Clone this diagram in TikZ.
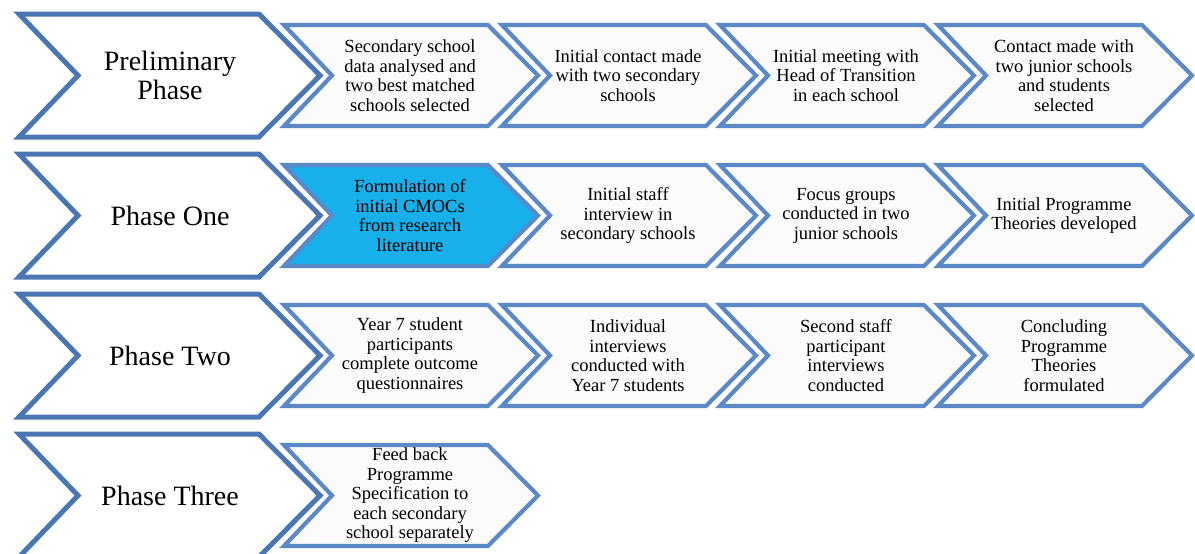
\documentclass[tikz,border=0pt]{standalone}
\usepackage{fontspec}
\setmainfont{Liberation Serif}
\newfontfamily\timesfont{Liberation Serif}
\usepackage{tikz}
\definecolor{uaxxbu}{rgb}{0.2902,0.4667,0.7059}
\definecolor{vbyycw}{rgb}{0.3569,0.5333,0.7765}
\definecolor{rxbqea}{rgb}{0.0902,0.6902,0.9176}
\definecolor{fbfbfb}{rgb}{0.9843,0.9843,0.9843}
\tikzset{
  phasebox/.style={draw=uaxxbu,line width=5pt,line join=miter,fill=white},
  stepbox/.style={draw=vbyycw,line width=4.2pt,line join=miter,fill=fbfbfb},
  phasetext/.style={align=center,font=\timesfont\fontsize{28}{29}\selectfont},
  steptext/.style={align=center,font=\timesfont\fontsize{18.5}{19.5}\selectfont}
}
\begin{document}
\begin{tikzpicture}[line cap=round,line join=round,x=1pt,y=-1pt]
\clip(0,0) rectangle (1195,554);
\useasboundingbox (0,0) rectangle (1195,554);
% big phase chevrons
\draw [phasebox] (19,14)-- (259,14)-- (320,75.5)-- (259,137)-- (19,137)-- (78,75.5)-- cycle;
\draw [phasebox,shift={(0,140)}] (19,14)-- (259,14)-- (320,75.5)-- (259,137)-- (19,137)-- (78,75.5)-- cycle;
\draw [phasebox,shift={(0,280)}] (19,14)-- (259,14)-- (320,75.5)-- (259,137)-- (19,137)-- (78,75.5)-- cycle;
\draw [phasebox,shift={(0,420)}] (19,14)-- (259,14)-- (320,75.5)-- (259,137)-- (19,137)-- (78,75.5)-- cycle;
% preliminary phase steps
\draw [stepbox,shift={(0,0)}] (284,25)-- (488,25)-- (538,75.5)-- (488,126)-- (284,126)-- (332,75.5)-- cycle;
\draw [stepbox,shift={(218,0)}] (284,25)-- (488,25)-- (538,75.5)-- (488,126)-- (284,126)-- (332,75.5)-- cycle;
\draw [stepbox,shift={(436,0)}] (284,25)-- (488,25)-- (538,75.5)-- (488,126)-- (284,126)-- (332,75.5)-- cycle;
\draw [stepbox,shift={(654,0)}] (284,25)-- (488,25)-- (538,75.5)-- (488,126)-- (284,126)-- (332,75.5)-- cycle;
% phase one steps
\draw [stepbox,fill=rxbqea,shift={(0,140)}] (284,25)-- (488,25)-- (538,75.5)-- (488,126)-- (284,126)-- (332,75.5)-- cycle;
\draw [stepbox,shift={(218,140)}] (284,25)-- (488,25)-- (538,75.5)-- (488,126)-- (284,126)-- (332,75.5)-- cycle;
\draw [stepbox,shift={(436,140)}] (284,25)-- (488,25)-- (538,75.5)-- (488,126)-- (284,126)-- (332,75.5)-- cycle;
\draw [stepbox,shift={(654,140)}] (284,25)-- (488,25)-- (538,75.5)-- (488,126)-- (284,126)-- (332,75.5)-- cycle;
% phase two steps
\draw [stepbox,shift={(0,280)}] (284,25)-- (488,25)-- (538,75.5)-- (488,126)-- (284,126)-- (332,75.5)-- cycle;
\draw [stepbox,shift={(218,280)}] (284,25)-- (488,25)-- (538,75.5)-- (488,126)-- (284,126)-- (332,75.5)-- cycle;
\draw [stepbox,shift={(436,280)}] (284,25)-- (488,25)-- (538,75.5)-- (488,126)-- (284,126)-- (332,75.5)-- cycle;
\draw [stepbox,shift={(654,280)}] (284,25)-- (488,25)-- (538,75.5)-- (488,126)-- (284,126)-- (332,75.5)-- cycle;
% phase three step
\draw [stepbox,shift={(0,420)}] (284,25)-- (488,25)-- (538,75.5)-- (488,126)-- (284,126)-- (332,75.5)-- cycle;
% texts
\node [phasetext] (prelim) at (170,75.5) {Preliminary\\Phase};
\node [phasetext] (one) at (170,215.5) {Phase One};
\node [phasetext] (two) at (170,355.5) {Phase Two};
\node [phasetext] (three) at (170,495.5) {Phase Three};
\node [steptext] (prelimA) at (410,75.5) {Secondary school\\data analysed and\\two best matched\\schools selected};
\node [steptext] (prelimB) at (628,75.5) {Initial contact made\\with two secondary\\schools};
\node [steptext] (prelimC) at (846,75.5) {Initial meeting with\\Head of Transition\\in each school};
\node [steptext] (prelimD) at (1064,75.5) {Contact made with\\two junior schools\\and students\\selected};
\node [steptext] (oneA) at (410,215.5) {Formulation of\\initial CMOCs\\from research\\literature};
\node [steptext] (oneB) at (628,215.5) {Initial staff\\interview in\\secondary schools};
\node [steptext] (oneC) at (846,215.5) {Focus groups\\conducted in two\\junior schools};
\node [steptext] (oneD) at (1064,215.5) {Initial Programme\\Theories developed};
\node [steptext] (twoA) at (410,355.5) {Year 7 student\\participants\\complete outcome\\questionnaires};
\node [steptext] (twoB) at (628,355.5) {Individual\\interviews\\conducted with\\Year 7 students};
\node [steptext] (twoC) at (846,355.5) {Second staff\\participant\\interviews\\conducted};
\node [steptext] (twoD) at (1064,355.5) {Concluding\\Programme\\Theories\\formulated};
\node [steptext] (threeA) at (410,495.5) {Feed back\\Programme\\Specification to\\each secondary\\school separately};
\end{tikzpicture}
\end{document}
